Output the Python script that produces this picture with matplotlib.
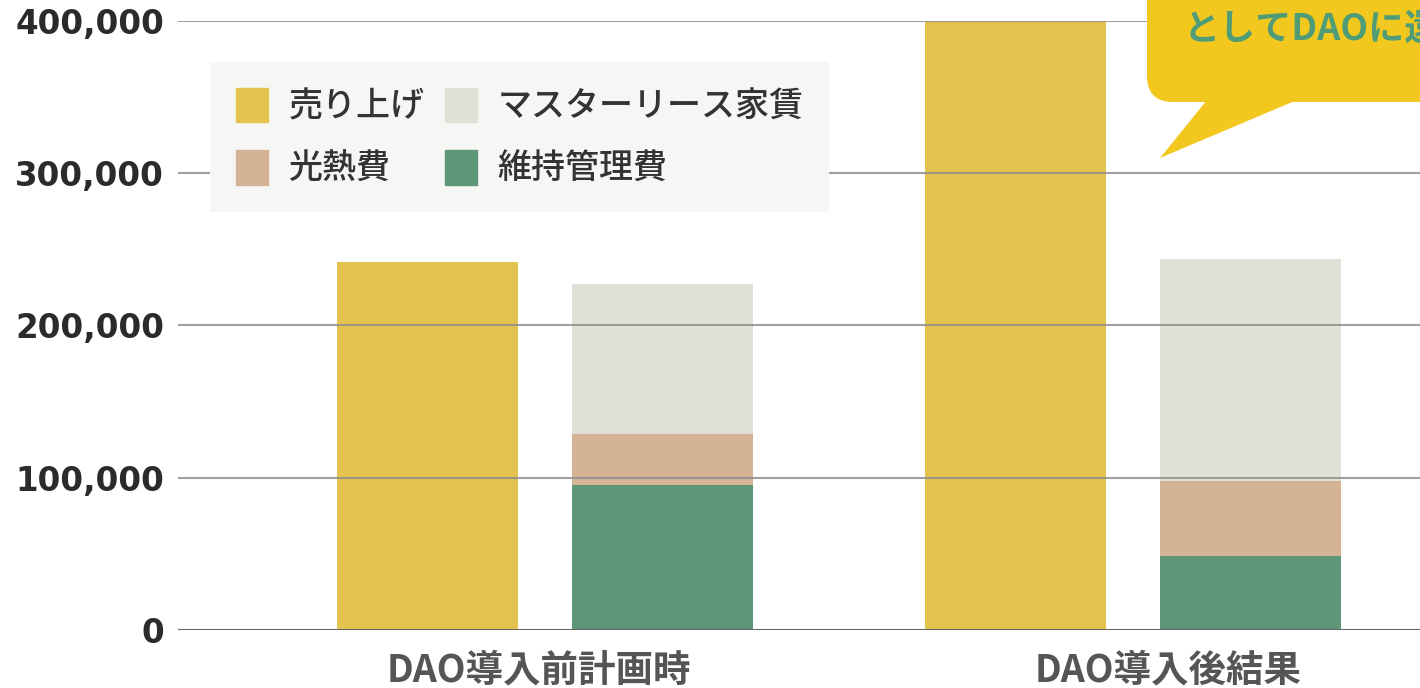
import matplotlib
matplotlib.use("Agg")
import matplotlib.pyplot as plt
from matplotlib.patches import Patch, FancyBboxPatch, Polygon
import numpy as np

plt.rcParams['font.family'] = ['Noto Sans CJK JP', 'DejaVu Sans']

# ---- data ----
groups = ["DAO導入前計画時", "DAO導入後結果"]
sales = [242000, 400000]
maintenance = [95000, 48600]      # 維持管理費
utilities = [34000, 49400]        # 光熱費
master_lease = [98000, 146000]    # マスターリース家賃
yticks = [0, 100000, 200000, 300000, 400000]
ytick_labels = ["0", "100,000", "200,000", "300,000", "400,000"]
callout_text = "としてDAOに還元"

c_sales = "#e3c34d"
c_rent = "#e0e0d6"
c_util = "#d4b494"
c_maint = "#5e9678"

W, H = 1420, 688
fig = plt.figure(figsize=(W / 100, H / 100), dpi=100)
ax = fig.add_axes([178 / W, 58 / H, (W - 178) / W, 609 / H])

x = np.arange(len(groups))
bw = 0.308
off = 0.2
ax.bar(x - off, sales, bw, color=c_sales, zorder=2)
ax.bar(x + off, maintenance, bw, color=c_maint, zorder=2)
ax.bar(x + off, utilities, bw, bottom=maintenance, color=c_util, zorder=2)
bottom2 = np.array(maintenance) + np.array(utilities)
ax.bar(x + off, master_lease, bw, bottom=bottom2, color=c_rent, zorder=2)

ax.set_xlim(-0.624, 1.488)
ax.set_ylim(0, 400000)

for s in ax.spines.values():
    s.set_visible(False)
for yv in yticks[1:]:
    ax.axhline(yv, color="#8f8f8f", lw=1.5, alpha=0.85, zorder=3)
ax.axhline(0, color="#666666", lw=2.2, zorder=3)

ax.set_yticks(yticks)
ax.set_yticklabels(ytick_labels, fontfamily="DejaVu Sans", fontweight="bold",
                   fontsize=23.5, color="#2b2b2b")
ax.tick_params(axis="y", length=0, pad=10)
ax.set_xticks(x + np.array([-0.01, 0.06]))
ax.set_xticklabels(groups, fontsize=27, fontweight="bold", color="#555555")
ax.tick_params(axis="x", length=0, pad=15)

handles = [Patch(color=c_sales, label="売り上げ"),
           Patch(color=c_util, label="光熱費"),
           Patch(color=c_rent, label="マスターリース家賃"),
           Patch(color=c_maint, label="維持管理費")]
leg = ax.legend(handles=handles, ncol=2, loc="upper left",
                bbox_to_anchor=(210 / W, 1 - 62 / H), bbox_transform=fig.transFigure,
                fontsize=24.5, frameon=True, fancybox=False,
                handlelength=0.95, handleheight=1.2, handletextpad=0.6,
                columnspacing=0.6, labelspacing=0.75, borderpad=0.75,
                borderaxespad=0)
leg.get_frame().set_facecolor("#f6f7f4")
leg.get_frame().set_edgecolor("none")
leg.get_frame().set_alpha(1)
leg.set_zorder(5)
for t in leg.get_texts():
    t.set_color("#333333")
    t.set_fontweight("medium")

# callout bubble (top right)
ycol = "#f2c81f"
box = FancyBboxPatch((1147, H - 102), 400, 160,
                     boxstyle="round,pad=0,rounding_size=26",
                     transform=None, facecolor=ycol, edgecolor="none",
                     clip_on=False, zorder=10)
fig.patches.append(box)
tri = Polygon([(1207, H - 100), (1160, H - 158), (1297, H - 100)], closed=True,
              transform=None, facecolor=ycol, edgecolor="none", zorder=10)
fig.patches.append(tri)
fig.text(1184 / W, 1 - 29 / H, callout_text, fontsize=26, fontweight="bold",
         color="#4f9c76", ha="left", va="center", zorder=11)

fig.savefig("out.png", dpi=100)
